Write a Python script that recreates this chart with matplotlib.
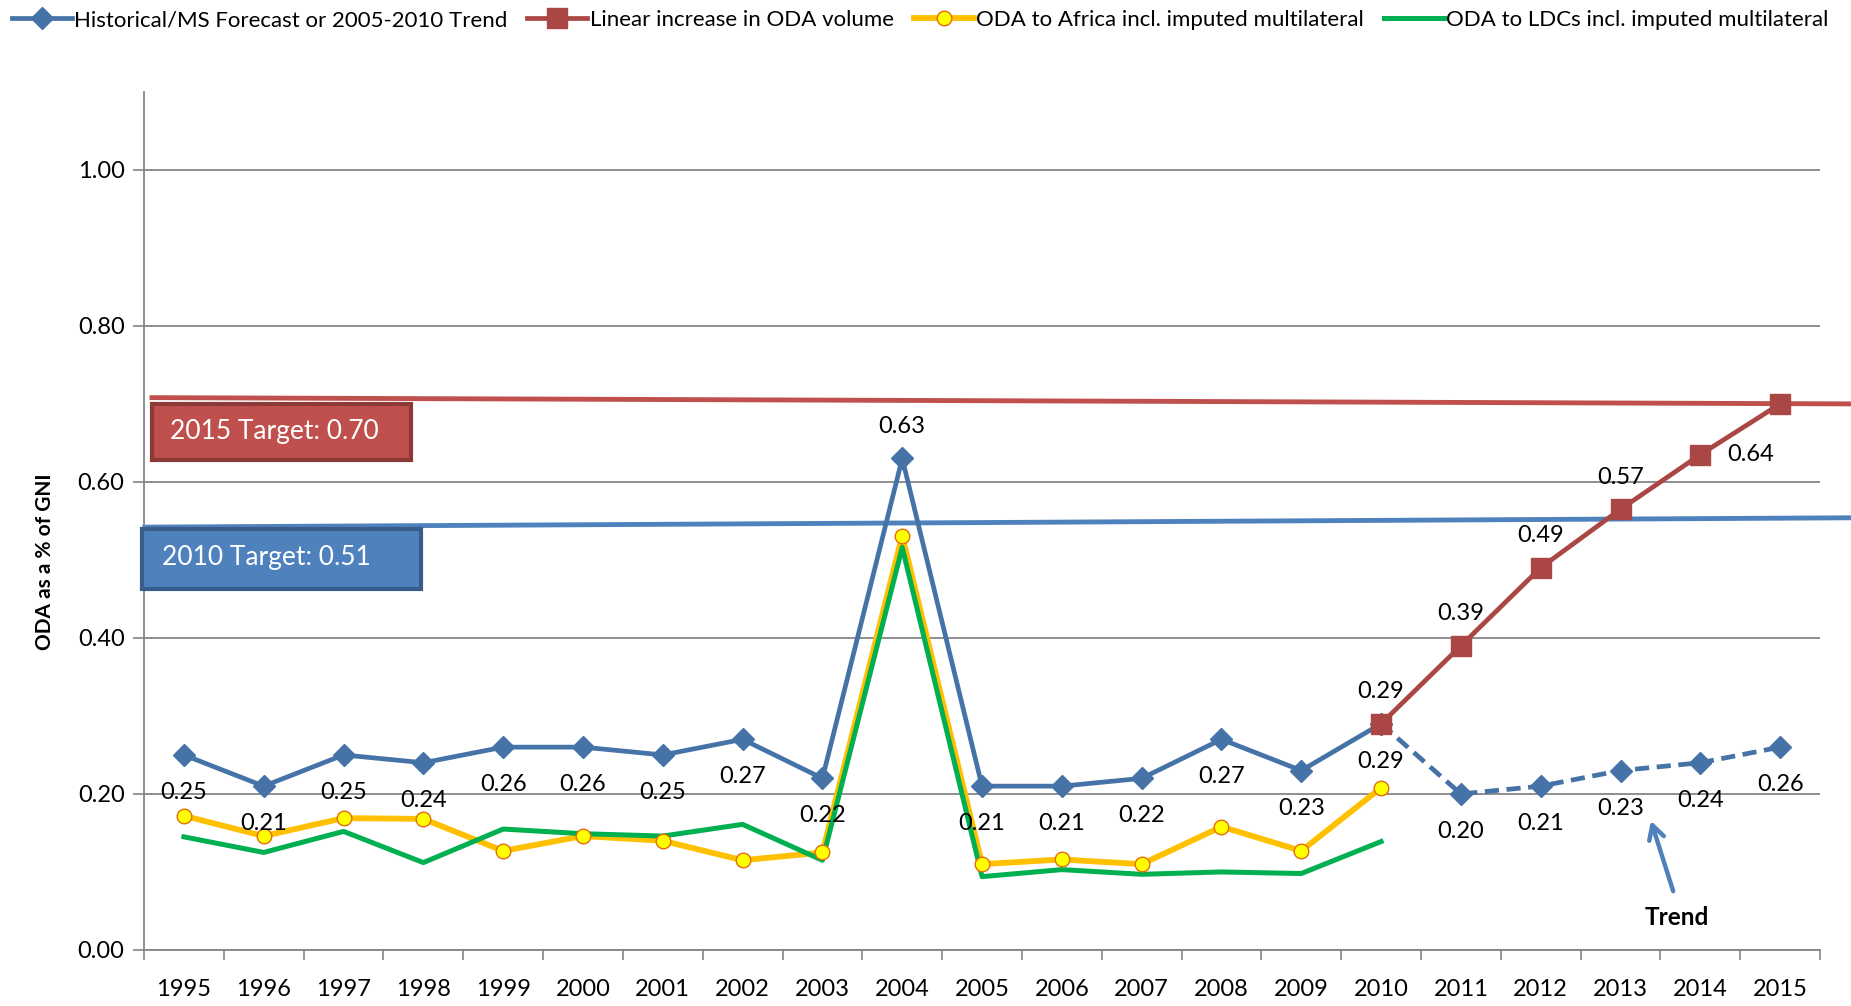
import matplotlib
matplotlib.use('Agg')
import matplotlib.pyplot as plt
from matplotlib.lines import Line2D
from matplotlib.patches import Rectangle

# --- data ---
years = [str(y) for y in range(1995, 2016)]
historical = [0.25, 0.21, 0.25, 0.24, 0.26, 0.26, 0.25, 0.27, 0.22, 0.63,
              0.21, 0.21, 0.22, 0.27, 0.23, 0.29]
trend = [0.29, 0.20, 0.21, 0.23, 0.24, 0.26]          # 2010-2015, dashed
linear_odA = [0.29, 0.39, 0.49, 0.565, 0.635, 0.70]   # 2010-2015
linear_labels = ['0.29', '0.39', '0.49', '0.57', '0.64']
africa = [0.172, 0.146, 0.169, 0.168, 0.127, 0.146, 0.140, 0.115, 0.125, 0.531,
          0.110, 0.116, 0.110, 0.158, 0.127, 0.208]
ldcs = [0.145, 0.125, 0.152, 0.112, 0.155, 0.149, 0.146, 0.161, 0.115, 0.516,
        0.094, 0.103, 0.097, 0.100, 0.098, 0.139]
target_2015 = 0.70
target_2010 = 0.51

# colours
BLUE = '#4572A7'
RED = '#AA4643'
YELLOW = '#FFC000'
GREEN = '#00B050'
GRID = '#868686'

plt.rcParams['font.family'] = ['Lato', 'DejaVu Sans']

fig = plt.figure(figsize=(18.51, 10.06), dpi=100)
ax = fig.add_axes([0.0778, 0.0557, 0.9055, 0.853])

x_hist = list(range(len(historical)))
x_fut = list(range(len(historical) - 1, len(years)))

# target lines (drawn shapes, run past the plot area)
ax.plot([-0.4, 20.9], [0.708, 0.700], color='#C0504D', lw=3.5, clip_on=False, zorder=2)
ax.plot([-0.49, 20.9], [0.542, 0.554], color='#4F81BD', lw=3.5, clip_on=False, zorder=2)

# series
ax.plot(x_hist, historical, color=BLUE, lw=3.4, marker='D', ms=11, zorder=4)
ax.plot(x_fut, trend, color=BLUE, lw=3.4, ls=(0, (3, 1.6)), marker='D', ms=11, zorder=4)
ax.plot(x_fut, linear_odA, color=RED, lw=3.4, marker='s', ms=14.5, zorder=6)
ax.plot(x_hist, africa, color=YELLOW, lw=4.2, zorder=3)
ax.plot(x_hist, ldcs, color=GREEN, lw=3.6, zorder=4.5)
ax.plot(x_hist, africa, ls='none', marker='o', ms=10.5, mfc='#FFFF00',
        mec='#E46C0A', mew=1, zorder=5)

# data labels
all_blue = historical + trend[1:]
for i, v in enumerate(all_blue):
    dy = 23 if years[i] == '2004' else -27
    ax.annotate(f'{v:.2f}', (i, v), xytext=(0, dy), textcoords='offset points',
                ha='center', va='center', fontsize=17, zorder=7)
for j, lab in enumerate(linear_labels):
    i = x_fut[j]
    off = (36, 0) if years[i] == '2014' else (0, 23)
    ax.annotate(lab, (i, linear_odA[j]), xytext=off, textcoords='offset points',
                ha='center', va='center', fontsize=17, zorder=7)

# target boxes
ax.add_patch(Rectangle((-0.40, 0.628), 3.24, 0.072, facecolor='#C0504D',
                       edgecolor='#8C3A38', lw=3, clip_on=False, zorder=8))
ax.text(-0.17, 0.665, f'2015 Target: {target_2015:.2f}', color='white',
        fontsize=19, va='center', ha='left', zorder=9)
ax.add_patch(Rectangle((-0.52, 0.463), 3.49, 0.077, facecolor='#4F81BD',
                       edgecolor='#385D8A', lw=3, clip_on=False, zorder=8))
ax.text(-0.27, 0.503, f'2010 Target: {target_2010:.2f}', color='white',
        fontsize=19, va='center', ha='left', zorder=9)

# trend arrow
ax.annotate('', xy=(18.37, 0.169), xytext=(18.67, 0.072),
            arrowprops=dict(arrowstyle='->, head_length=1.0, head_width=0.55',
                            color='#4F81BD', lw=3.2))
ax.text(18.70, 0.041, 'Trend', fontsize=17.5, fontweight='bold', ha='center', va='center')

# axes styling
ax.set_xlim(-0.5, len(years) - 0.5)
ax.set_ylim(0, 1.1)
ax.set_xticks(range(len(years)))
ax.set_xticklabels(years, fontsize=17)
ax.set_xticks([i - 0.5 for i in range(len(years) + 1)], minor=True)
ax.tick_params(axis='x', which='major', length=0, pad=21)
ax.tick_params(axis='x', which='minor', length=7, color=GRID, width=1.2)
ax.set_yticks([0, 0.2, 0.4, 0.6, 0.8, 1.0])
ax.set_yticklabels([f'{t:.2f}' for t in [0, 0.2, 0.4, 0.6, 0.8, 1.0]], fontsize=17)
ax.tick_params(axis='y', length=8, color=GRID, width=1.2, pad=6)
ax.grid(axis='y', color=GRID, lw=1.3)
ax.set_axisbelow(True)
for s in ['top', 'right']:
    ax.spines[s].set_visible(False)
for s in ['left', 'bottom']:
    ax.spines[s].set_color(GRID)
    ax.spines[s].set_linewidth(1.3)

fig.text(0.0243, 0.442, 'ODA as a % of GNI', rotation=90, fontsize=15,
         fontweight='bold', ha='center', va='center')

# legend
handles = [
    Line2D([], [], color=BLUE, lw=3.4, marker='D', ms=11),
    Line2D([], [], color=RED, lw=3.4, marker='s', ms=14),
    Line2D([], [], color=YELLOW, lw=4.2, marker='o', ms=10.5, mfc='#FFFF00', mec='#E46C0A'),
    Line2D([], [], color=GREEN, lw=3.6),
]
labels = ['Historical/MS Forecast or 2005-2010 Trend', 'Linear increase in ODA volume',
          'ODA to Africa incl. imputed multilateral', 'ODA to LDCs incl. imputed multilateral']
fig.legend(handles, labels, loc='center', bbox_to_anchor=(0.497, 0.98), ncol=4,
           frameon=False, fontsize=16, handlelength=2.7, handletextpad=0.1,
           columnspacing=0.9, borderpad=0)

fig.savefig('out.png', dpi=100)
